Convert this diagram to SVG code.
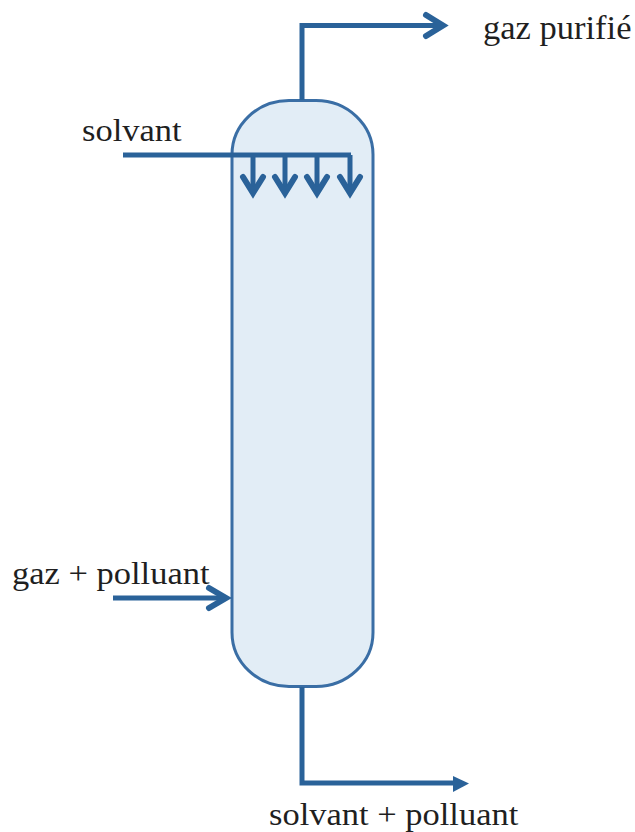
<svg xmlns="http://www.w3.org/2000/svg" width="635" height="832" viewBox="0 0 635 832">
<style>
text{font-family:"Liberation Serif","Times New Roman",serif;font-size:31px;fill:#1f1f1f}
.c{fill:none;stroke:#2a6299;stroke-width:5}
.a{fill:none;stroke:#2a6299;stroke-width:6;stroke-linecap:round;stroke-linejoin:miter}
.v{fill:#e2edf6;stroke:#3a6ea5;stroke-width:3}
</style>
<rect width="635" height="832" fill="#fff"/>
<g id="column"><rect class="v" x="232" y="100.500" width="141" height="586" rx="57" ry="54"/></g>
<g id="connectors">
<path class="c" d="M302 100V25.500H443"/><path class="a" d="M426 15L443 25.500L426 36"/>
<path class="c" d="M123 155H351"/>
<path class="c" d="M253 155V193M285 155V193M317 155V193M350 155V193"/>
<path class="a" d="M243 177L253 193L263 177M275 177L285 193L295 177M307 177L317 193L327 177M340 177L350 193L360 177"/>
<path class="c" d="M113 598H226"/><path class="a" d="M209 588L226 598L209 608"/>
<path class="c" d="M302 687V783H455"/><path fill="#2a6299" d="M453 776L469 783.500L453 792Z"/>
</g>
<g id="labels">
<text transform="translate(483 39) scale(1.046 1)" style="font-size:33px">gaz purifié</text>
<text transform="translate(82 141) scale(1.113 1)">solvant</text>
<text transform="translate(12 584) scale(1.113 1)">gaz + polluant</text>
<text transform="translate(269 825) scale(1.113 1)">solvant + polluant</text>
</g>
</svg>
